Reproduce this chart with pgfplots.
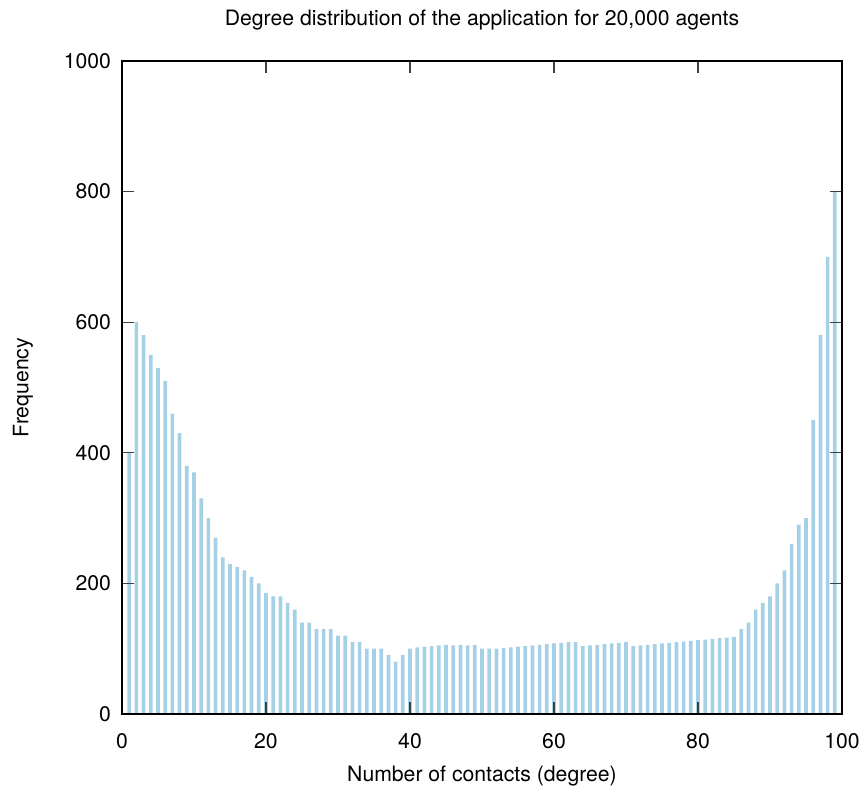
\documentclass[border=0pt]{standalone}
\usepackage{pgfplots}
\pgfplotsset{compat=1.18}
\usepackage{fontspec}
\setmainfont{TeX Gyre Heros}
\definecolor{barblue}{RGB}{166,208,230}
\begin{document}
\begin{tikzpicture}
\begin{axis}[
  at={(0,0)}, anchor=south west,
  scale only axis, width=360pt, height=326.5pt,
  xmin=0, xmax=100, ymin=0, ymax=1000,
  xtick={0,20,...,100}, ytick={0,200,...,1000},
  tick align=inside, major tick length=6pt,
  tick style={black!75, line width=0.6pt},
  axis line style={black, line width=0.7pt},
  axis on top,
  font=\fontsize{10.6}{12.7}\selectfont,
  /pgf/number format/assume math mode=true,
  /pgf/number format/set thousands separator={},
  title={Degree distribution of the application for 20,000 agents},
  xlabel={Number of contacts (degree)},
  ylabel={Frequency},
  every axis title/.style={at={(axis description cs:0.5,1.0628)}, anchor=center},
  every axis x label/.style={at={(axis description cs:0.5,-0.095)}, anchor=center},
  every axis y label/.style={at={(axis description cs:-0.1375,0.5)}, rotate=90, anchor=center},
  xticklabel style={yshift=-6pt},
  yticklabel style={xshift=-2pt},
]
\addplot[ybar, bar width=1.85pt, fill=barblue, draw=none] table {
x y
1 400
2 600
3 580
4 550
5 530
6 510
7 460
8 430
9 380
10 370
11 330
12 300
13 270
14 240
15 230
16 225
17 220
18 210
19 200
20 185
21 180
22 180
23 170
24 160
25 140
26 140
27 130
28 130
29 130
30 120
31 120
32 110
33 110
34 100
35 100
36 100
37 90
38 80
39 90
40 100
41 102
42 103
43 104
44 105
45 106
46 105
47 106
48 105
49 106
50 100
51 100
52 100
53 101
54 102
55 103
56 104
57 105
58 106
59 107
60 108
61 109
62 110
63 110
64 104
65 105
66 106
67 107
68 108
69 109
70 110
71 104
72 105
73 106
74 107
75 108
76 109
77 110
78 111
79 112
80 113
81 114
82 115
83 116
84 117
85 118
86 130
87 140
88 160
89 170
90 180
91 200
92 220
93 260
94 290
95 300
96 450
97 580
98 700
99 800
};
\end{axis}
\pgfresetboundingbox
\path (-61pt,-38pt) rectangle (370.5pt,357pt);
\end{tikzpicture}
\end{document}
